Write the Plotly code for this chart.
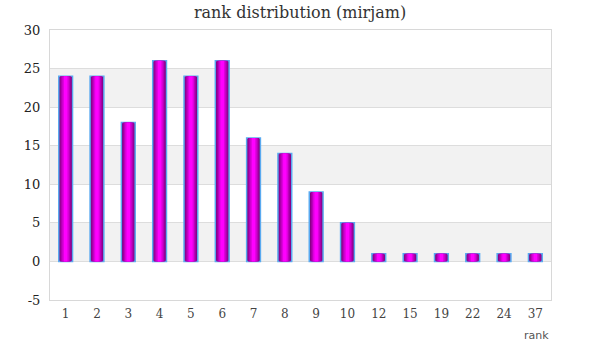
import plotly.graph_objects as go

ranks = ["1", "2", "3", "4", "5", "6", "7", "8", "9", "10", "12", "15", "19", "22", "24", "37"]
counts = [24, 24, 18, 26, 24, 26, 16, 14, 9, 5, 1, 1, 1, 1, 1, 1]
y_ticks = [-5, 0, 5, 10, 15, 20, 25, 30]
y_tick_text = ["-5", "0", "5", "10", "15", "20", "25", "30"]

# gradient simulated by overlaid bars of decreasing width
layers = [
    (0.44, "#7a0078", dict(color="#5aaaf0", width=1.5)),
    (0.36, "#9a009a", dict(width=0)),
    (0.28, "#bb00bb", dict(width=0)),
    (0.20, "#dd00dd", dict(width=0)),
    (0.11, "#ff00ff", dict(width=0)),
]

fig = go.Figure()
for w, c, ln in layers:
    fig.add_trace(go.Bar(x=ranks, y=counts, width=w, marker=dict(color=c, line=ln),
                         showlegend=False, hoverinfo="x+y"))

shapes = []
for lo in (0, 10, 20):
    shapes.append(dict(type="rect", xref="paper", yref="y", x0=0, x1=1, y0=lo, y1=lo + 5,
                       fillcolor="#f2f2f2", line=dict(width=0), layer="below"))

fig.update_layout(
    width=600, height=360,
    margin=dict(l=50, r=49, t=30, b=60),
    paper_bgcolor="white", plot_bgcolor="white",
    barmode="overlay",
    shapes=shapes,
    title=dict(text="rank distribution (mirjam)", x=0.5, xanchor="center", y=1 - 12 / 360, yanchor="middle",
               font=dict(family="DejaVu Serif", size=16, color="#333")),
    font=dict(family="DejaVu Serif", size=12, color="#333"),
    xaxis=dict(type="category", showgrid=False, ticks="", showline=True, linecolor="#d8d8d8",
               mirror=True, tickfont=dict(size=12, color="#444"), ticklabelstandoff=3),
    yaxis=dict(range=[-5, 30], tickvals=y_ticks, ticktext=y_tick_text, showgrid=True, gridcolor="#dddddd",
               zeroline=False, showline=True, linecolor="#d8d8d8", mirror=True,
               ticks="", tickfont=dict(size=13, color="#222"), ticklabelstandoff=6),
    annotations=[dict(text="rank", xref="paper", yref="paper", x=1, y=-35 / 270, xanchor="right",
                      yanchor="middle", showarrow=False,
                      font=dict(family="DejaVu Sans", size=11, color="#555"))],
)
fig.write_html("out.html", config={"displayModeBar": False},
               post_script="document.body.style.margin='0';")
